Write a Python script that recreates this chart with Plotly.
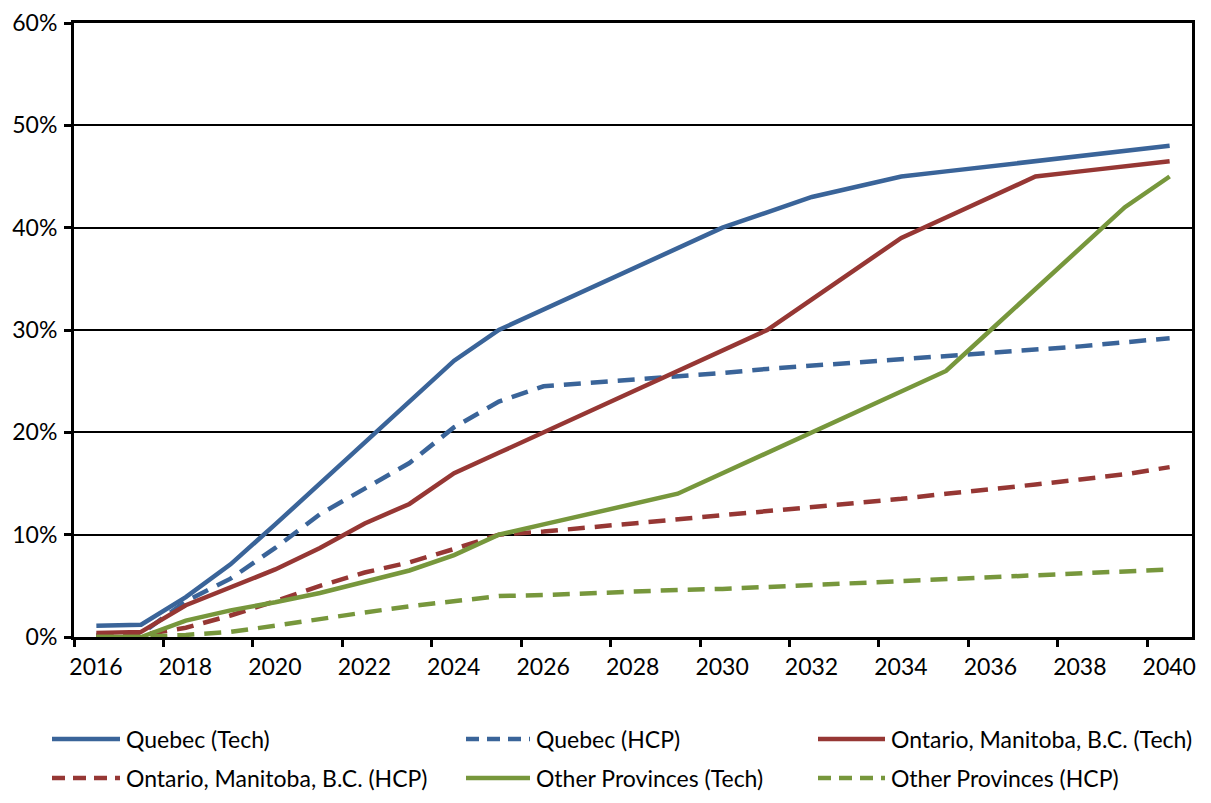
import plotly.graph_objects as go

years = list(range(2016, 2041))

quebec_tech = [1.1, 1.2, 3.9, 7.1, 11.0, 15.0, 19.0, 23.0, 27.0, 30.0, 32.0, 34.0, 36.0, 38.0, 40.0,
               41.5, 43.0, 44.0, 45.0, 45.5, 46.0, 46.5, 47.0, 47.5, 48.0]
quebec_hcp = [0.2, 0.3, 3.5, 5.7, 8.7, 12.0, 14.5, 17.0, 20.5, 23.0, 24.5, 24.8, 25.1, 25.5, 25.8,
              26.2, 26.5, 26.8, 27.1, 27.5, 27.8, 28.1, 28.4, 28.8, 29.2]
ontario_tech = [0.4, 0.5, 3.1, 4.9, 6.6, 8.7, 11.1, 13.0, 16.0, 18.0, 20.0, 22.0, 24.0, 26.0, 28.0,
                30.0, 33.0, 36.0, 39.0, 41.0, 43.0, 45.0, 45.5, 46.0, 46.5]
ontario_hcp = [0.1, 0.2, 0.9, 2.1, 3.5, 5.0, 6.3, 7.3, 8.6, 10.0, 10.3, 10.7, 11.0, 11.4, 11.8,
               12.2, 12.6, 13.1, 13.5, 14.0, 14.4, 14.9, 15.4, 15.9, 16.6]
other_tech = [0.0, 0.0, 1.6, 2.6, 3.4, 4.3, 5.4, 6.5, 8.0, 10.0, 11.0, 12.0, 13.0, 14.0, 16.0,
              18.0, 20.0, 22.0, 24.0, 26.0, 30.0, 34.0, 38.0, 42.0, 45.0]
other_hcp = [0.0, 0.0, 0.2, 0.5, 1.1, 1.8, 2.4, 3.0, 3.5, 4.0, 4.1, 4.3, 4.4, 4.6, 4.7,
             4.9, 5.0, 5.2, 5.4, 5.6, 5.8, 6.0, 6.2, 6.4, 6.6]

BLUE = "#3A6499"
RED = "#963734"
GREEN = "#77973C"

series = [
    ("Quebec (Tech)", quebec_tech, BLUE, False),
    ("Quebec (HCP)", quebec_hcp, BLUE, True),
    ("Ontario, Manitoba, B.C. (Tech)", ontario_tech, RED, False),
    ("Ontario, Manitoba, B.C. (HCP)", ontario_hcp, RED, True),
    ("Other Provinces (Tech)", other_tech, GREEN, False),
    ("Other Provinces (HCP)", other_hcp, GREEN, True),
]

W, H = 1195, 787
ML, MR, MT, MB = 66, 11, 15, 158
PW, PH = W - ML - MR, H - MT - MB

fig = go.Figure()
for name, vals, col, dashed in series:
    fig.add_trace(go.Scatter(
        x=years, y=[v / 100 for v in vals], name=name, mode="lines",
        line=dict(color=col, width=4.5, dash="17px,10px" if dashed else "solid"),
        showlegend=False,
    ))

font = dict(family="Lato, Liberation Sans, sans-serif", size=23, color="black")

# legend drawn by hand: 3 columns x 2 rows below the plot
col_x = [(44, 112), (458, 522), (810, 877)]
row_y = [731, 770]
px = lambda x: (x - ML) / PW
py = lambda y: (MT + PH - y) / PH
for i, (name, vals, col, dashed) in enumerate(series):
    (x0, x1), y = col_x[i % 3], row_y[i // 3]
    fig.add_shape(type="line", xref="paper", yref="paper", x0=px(x0), x1=px(x1),
                  y0=py(y), y1=py(y),
                  line=dict(color=col, width=4.5, dash="13px,8px" if dashed else "solid"))
    fig.add_annotation(xref="paper", yref="paper", x=px(x1 + 4), y=py(y), text=name,
                       showarrow=False, xanchor="left", yanchor="middle", font=font)

# labels sit under the year, tick marks on the category boundaries
tick_pos = [y - 0.5 for y in years[::2]]
fig.update_xaxes(
    range=[2015.5, 2040.5], tickvals=tick_pos, ticktext=[str(y) for y in years[::2]],
    ticklabelshift=22, ticks="outside", ticklen=7, tickwidth=3, tickcolor="black",
    showline=True, linewidth=3, linecolor="black", mirror=True, showgrid=False,
    zeroline=False, tickfont=font, automargin=False, ticklabeloverflow="allow",
)
fig.update_yaxes(
    range=[0, 0.6], dtick=0.1, tickformat=".0%", ticks="outside", ticklen=7, tickwidth=3,
    tickcolor="black", showline=True, linewidth=3, linecolor="black", mirror=True,
    showgrid=True, gridcolor="black", gridwidth=1.5, zeroline=False, tickfont=font,
    automargin=False, ticklabelstandoff=2, ticklabeloverflow="allow",
)

fig.update_layout(
    width=W, height=H,
    margin=dict(l=ML, r=MR, t=MT, b=MB),
    plot_bgcolor="white", paper_bgcolor="white",
    font=font, showlegend=False,
)

fig.write_html("out.html")
